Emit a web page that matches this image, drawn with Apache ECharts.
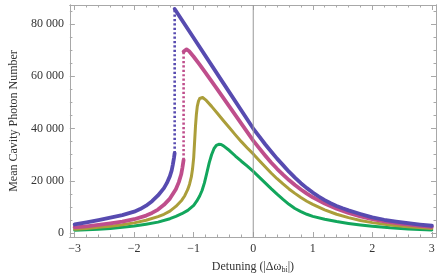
<!DOCTYPE html>
<html><head><meta charset="utf-8">
<script src="https://cdn.jsdelivr.net/npm/echarts@6/dist/echarts.min.js"></script>
<style>html,body{margin:0;padding:0;background:#fff}#c{width:443px;height:279px}</style>
</head><body><div id="c"></div>
<script>
// ---- data ----
const xTicks = [-3, -2, -1, 0, 1, 2, 3];
const yTicks = [0, 20000, 40000, 60000, 80000];
const xLabel = 'Detuning (|Δω{sub|bi}|)';
const yLabel = 'Mean Cavity Photon Number';

const blueLow = [[-3.0,3300],[-2.8,4100],[-2.6,5000],[-2.4,5900],[-2.2,6900],[-2.0,8200],[-1.9,9200],[-1.8,10500],[-1.7,12200],[-1.6,14400],[-1.5,17200],[-1.45,19200],[-1.4,21800],[-1.37,24000],[-1.35,26300],[-1.33,29000],[-1.32,30600]];
const blueHigh = [[-1.32,85800],[-1.0,74700],[-0.5,57300],[0,40000],[0.1,37000],[0.2,34000],[0.3,31200],[0.4,28500],[0.5,26000],[0.6,23500],[0.7,21200],[0.8,19100],[0.9,17200],[1.0,15500],[1.1,14000],[1.2,12600],[1.3,11400],[1.4,10400],[1.5,9500],[1.6,8700],[1.8,7300],[2.0,6000],[2.2,5100],[2.4,4400],[2.6,3800],[2.8,3250],[3.0,2800]];
const blueJump = [[-1.32,30600],[-1.32,85800]];

const pinkLow = [[-3.0,2200],[-2.8,2600],[-2.6,3100],[-2.4,3700],[-2.2,4400],[-2.0,5300],[-1.8,6700],[-1.7,7700],[-1.6,9000],[-1.5,10800],[-1.4,13200],[-1.3,16800],[-1.25,19500],[-1.21,22500],[-1.19,25000],[-1.17,28000]];
const pinkHigh = [[-1.17,69500],[-1.15,70200],[-1.12,70300],[-1.08,69700],[-1.0,67500],[-0.9,64500],[-0.8,61300],[-0.6,54900],[-0.4,48400],[-0.2,41900],[0,35400],[0.1,32500],[0.2,29700],[0.3,27000],[0.4,24600],[0.5,22400],[0.6,20300],[0.7,18400],[0.8,16700],[0.9,15100],[1.0,13700],[1.2,11300],[1.4,9300],[1.6,7700],[1.8,6400],[2.0,5300],[2.2,4500],[2.5,3500],[2.8,2800],[3.0,2400]];
const pinkJump = [[-1.17,28000],[-1.17,69500]];

const olive = [[-3.0,1500],[-2.8,1800],[-2.6,2200],[-2.4,2650],[-2.2,3200],[-2.0,3900],[-1.8,4900],[-1.6,6300],[-1.5,7200],[-1.4,8400],[-1.3,10200],[-1.2,12600],[-1.15,14300],[-1.1,16700],[-1.07,18700],[-1.04,21500],[-1.02,24500],[-1.0,29000],[-0.985,35000],[-0.97,41000],[-0.955,45500],[-0.94,48500],[-0.92,50500],[-0.9,51500],[-0.88,52000],[-0.85,51900],[-0.8,51000],[-0.7,48500],[-0.6,45800],[-0.5,43000],[-0.4,40300],[-0.3,37600],[-0.2,35000],[-0.1,32600],[0,30300],[0.1,27800],[0.2,25400],[0.3,23000],[0.4,20800],[0.5,18800],[0.6,16900],[0.7,15200],[0.8,13600],[0.9,12200],[1.0,11000],[1.2,8900],[1.4,7200],[1.6,5900],[1.8,4800],[2.0,4000],[2.3,3100],[2.6,2400],[3.0,1800]];

const green = [[-3.0,1100],[-2.8,1300],[-2.6,1500],[-2.4,1800],[-2.2,2200],[-2.0,2700],[-1.8,3400],[-1.6,4200],[-1.4,5500],[-1.3,6400],[-1.2,7400],[-1.1,8700],[-1.0,10600],[-0.95,12200],[-0.9,14200],[-0.86,16300],[-0.82,19200],[-0.78,23000],[-0.74,26900],[-0.7,30000],[-0.66,32300],[-0.62,33600],[-0.58,34000],[-0.54,33900],[-0.5,33400],[-0.4,31600],[-0.3,29500],[-0.2,27500],[-0.1,25600],[0,23600],[0.1,21400],[0.2,19200],[0.3,17000],[0.4,14900],[0.5,12900],[0.6,11000],[0.7,9400],[0.8,8200],[0.9,7200],[1.0,6400],[1.2,5300],[1.4,4400],[1.6,3700],[1.8,3100],[2.0,2600],[2.3,2000],[2.6,1600],[3.0,1200]];

const zeroLine = [[0,-1500],[0,87300]];

// ---- layout / style ----
const XMIN = -3.08, XMAX = 3.07, YMIN = -1500, YMAX = 87300;
const xMinor = []; for (let i = -15; i <= 15; i++) xMinor.push(i / 5);
const yMinor = []; for (let i = 0; i <= 17; i++) yMinor.push(i * 5000);
const FONT = 'Liberation Serif';
const FRAME = '#a8a8a8';
const TXT = '#333';
const C_BLUE = '#574bb0', C_PINK = '#bf4e8c', C_OLIVE = '#ab9e3a', C_GREEN = '#12a65c';

function xAx(pos, ticks, len, labels) {
  return {type:'value', position:pos, min:XMIN, max:XMAX,
    axisLine:{show:true, onZero:false, lineStyle:{color:FRAME, width:1}},
    axisTick:{show:true, inside:true, length:len, customValues:ticks, lineStyle:{color:FRAME, width:1}},
    axisLabel:labels ? {show:true, customValues:ticks, margin:6, fontFamily:FONT, fontSize:12, color:TXT,
      formatter:v => v < 0 ? '\u2212' + Math.abs(v) : String(v)} : {show:false},
    splitLine:{show:false}};
}
function yAx(pos, ticks, len, labels) {
  return {type:'value', position:pos, min:YMIN, max:YMAX,
    axisLine:{show:true, onZero:false, lineStyle:{color:FRAME, width:1}},
    axisTick:{show:true, inside:true, length:len, customValues:ticks, lineStyle:{color:FRAME, width:1}},
    axisLabel:labels ? {show:true, customValues:ticks, margin:6, fontFamily:FONT, fontSize:12, color:TXT,
      formatter:v => v >= 1000 ? Math.floor(v/1000) + ' 000' : String(v)} : {show:false},
    splitLine:{show:false}};
}

const xa0 = xAx('bottom', xTicks, 5, true);
xa0.name = xLabel; xa0.nameLocation = 'middle'; xa0.nameGap = 23;
xa0.nameTextStyle = {fontFamily:FONT, fontSize:12, color:TXT,
  rich:{sub:{fontFamily:FONT, fontSize:8, color:TXT, padding:[6,0,0,0], verticalAlign:'bottom'}}};
const ya0 = yAx('left', yTicks, 5, true);
ya0.name = yLabel; ya0.nameLocation = 'middle'; ya0.nameGap = 46;
ya0.nameTextStyle = {fontFamily:FONT, fontSize:12, color:TXT};

function line(data, color, width, z) {
  return {type:'line', data:data, xAxisIndex:0, yAxisIndex:0, showSymbol:false, symbol:'none',
    smooth:false, lineStyle:{color:color, width:width, cap:'round', join:'round'}, z:z, silent:true, animation:false};
}
function dots(data, color, z) {
  return {type:'line', data:data, xAxisIndex:0, yAxisIndex:0, showSymbol:false, symbol:'none',
    lineStyle:{color:color, width:2.6, type:[2.2,2.2]}, z:z, silent:true, animation:false};
}

const chart = echarts.init(document.getElementById('c'), null, {renderer:'canvas'});
chart.setOption({
  animation:false,
  backgroundColor:'#fff',
  grid:{left:57, right:7, top:5, bottom:39, containLabel:false},
  xAxis:[xa0, xAx('bottom', xMinor, 2.5, false), xAx('top', xTicks, 5, false), xAx('top', xMinor, 2.5, false)],
  yAxis:[ya0, yAx('left', yMinor, 2.5, false), yAx('right', yTicks, 5, false), yAx('right', yMinor, 2.5, false)],
  series:[
    line(green, C_GREEN, 3, 2),
    line(olive, C_OLIVE, 3, 3),
    line(pinkLow, C_PINK, 3.8, 4),
    line(pinkHigh, C_PINK, 3.8, 4),
    dots(pinkJump, C_PINK, 4),
    line(blueLow, C_BLUE, 3.8, 5),
    line(blueHigh, C_BLUE, 3.8, 5),
    dots(blueJump, C_BLUE, 5),
    {type:'line', data:zeroLine, xAxisIndex:0, yAxisIndex:0, showSymbol:false, symbol:'none',
      lineStyle:{color:'#999', width:1}, z:6, silent:true, animation:false}
  ]
});
</script></body></html>
